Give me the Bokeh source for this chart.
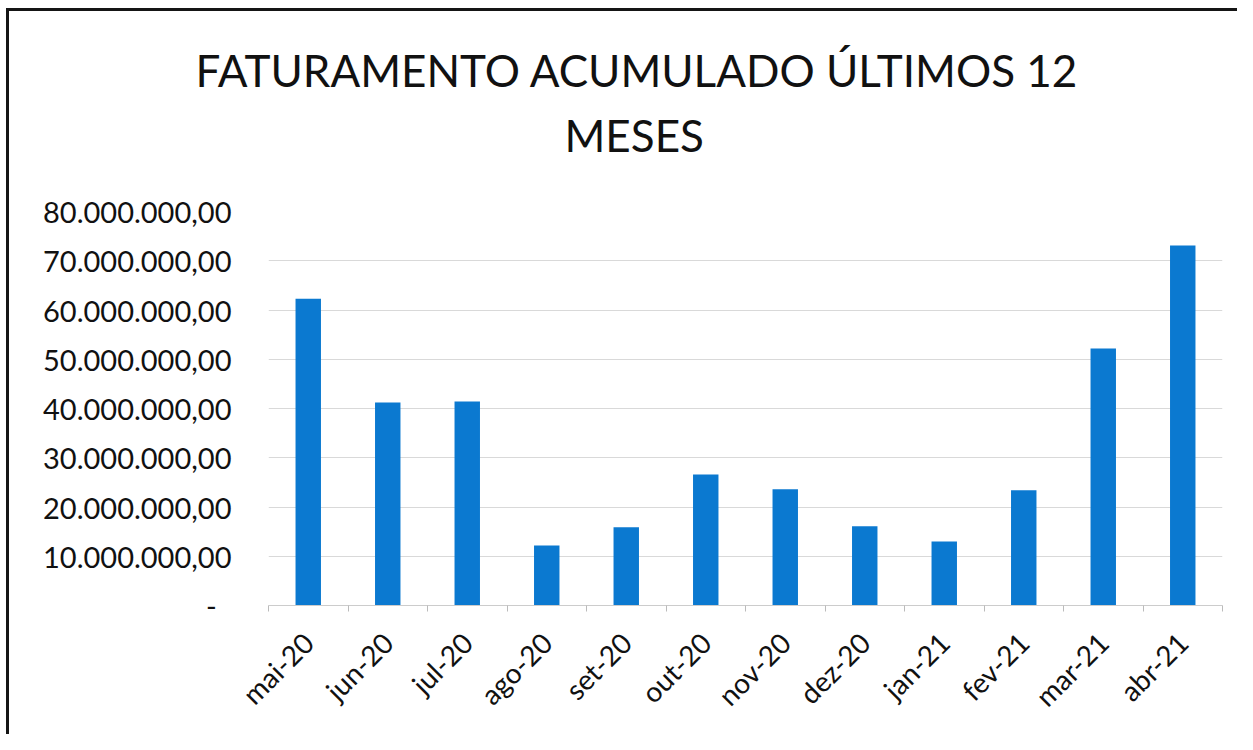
import math
import numpy as np
from bokeh.plotting import figure
from bokeh.models import Range1d, FixedTicker, Title, ColumnDataSource
from bokeh.embed import file_html
from bokeh.resources import INLINE

# ---- data ----
months = ["mai-20", "jun-20", "jul-20", "ago-20", "set-20", "out-20",
          "nov-20", "dez-20", "jan-21", "fev-21", "mar-21", "abr-21"]
faturamento = [62300000, 41200000, 41400000, 12200000, 15900000, 26600000,
               23600000, 16100000, 13000000, 23400000, 52200000, 73100000]
y_ticks = [0, 10000000, 20000000, 30000000, 40000000, 50000000, 60000000, 70000000, 80000000]
title_line1 = "FATURAMENTO ACUMULADO ÚLTIMOS 12"
title_line2 = "MESES"

FONT = "Lato"
BLUE = "#0b79d0"


def fmt_br(v):
    if v == 0:
        return "-\u00a0\u00a0"
    s = f"{v:,.2f}"
    return s.replace(",", "X").replace(".", ",").replace("X", ".")


xs = np.arange(len(months)) + 0.5
src = ColumnDataSource(dict(x=xs, top=faturamento, m=months))

p = figure(width=1237, height=734, output_backend="svg", toolbar_location=None,
           x_range=Range1d(0, len(months)), y_range=Range1d(0, 80000000),
           min_border_left=268, min_border_right=15, min_border_top=211,
           min_border_bottom=129)
# chart-area frame: left and top edges (inset shadows, no layout space taken)
p.styles = {"box-shadow": "inset 6px 8px 0 0 #ffffff, inset 9px 11px 0 0 #151515",
            "background-color": "#ffffff"}

p.vbar(x="x", top="top", width=0.32, source=src, fill_color=BLUE, line_color=None)

p.outline_line_color = None
p.background_fill_color = "white"
p.border_fill_color = None

# y axis
p.yaxis.ticker = FixedTicker(ticks=y_ticks)
p.yaxis.major_label_overrides = {t: fmt_br(t) for t in y_ticks}
p.yaxis.axis_line_color = None
p.yaxis.major_tick_line_color = None
p.yaxis.minor_tick_line_color = None
p.yaxis.major_label_text_font = FONT
p.yaxis.major_label_text_font_size = "29px"
p.yaxis.major_label_text_color = "#111111"
p.yaxis.major_label_standoff = 31

p.ygrid.grid_line_color = "#d9d9d9"
p.xgrid.grid_line_color = None

# x axis
p.xaxis.ticker = FixedTicker(ticks=list(xs), minor_ticks=list(range(len(months) + 1)))
p.xaxis.major_label_overrides = {float(x): m for x, m in zip(xs, months)}
p.xaxis.axis_line_color = "#cccccc"
p.xaxis.major_tick_line_color = None
p.xaxis.minor_tick_line_color = "#bbbbbb"
p.xaxis.minor_tick_out = 6
p.xaxis.minor_tick_in = 0
p.xaxis.major_label_orientation = math.pi / 4
p.xaxis.major_label_text_font = FONT
p.xaxis.major_label_text_font_size = "28px"
p.xaxis.major_label_text_color = "#111111"
p.xaxis.major_label_standoff = 26

# titles (spacer closest to the frame, then line 2, then line 1)
spacer = Title(text=" ", text_font_size="1px", standoff=42)
t2 = Title(text=title_line2, align="left", offset=296, text_font=FONT,
           text_font_size="44px", text_font_style="normal", text_color="#111111", standoff=12)
t1 = Title(text=title_line1, align="left", offset=-73, text_font=FONT,
           text_font_size="44px", text_font_style="normal", text_color="#111111", standoff=10)
p.add_layout(spacer, "above")
p.add_layout(t2, "above")
p.add_layout(t1, "above")

open("out.html", "w").write(file_html(p, INLINE))
